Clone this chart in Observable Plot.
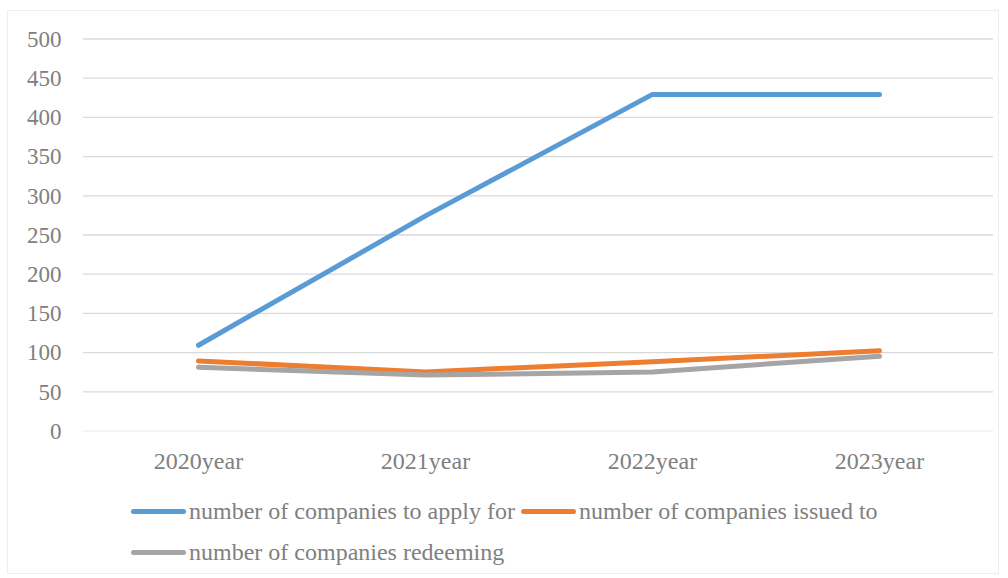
<!DOCTYPE html>
<html>
<head>
<meta charset="utf-8">
<script src="https://cdn.jsdelivr.net/npm/d3@7"></script>
<script src="https://cdn.jsdelivr.net/npm/@observablehq/plot@0.6"></script>
<style>
  html, body { margin: 0; padding: 0; background: #fff; }
  #frame { position: absolute; left: 7px; top: 10px; width: 992px; height: 564px; border: 1px solid #eeeeee; box-sizing: border-box; }
  #chart { position: absolute; left: 0; top: 0; }
  #chart svg text { font-family: "Liberation Serif", Tinos, "DejaVu Serif", serif; }
  .leg { position: absolute; font-family: "Liberation Serif", Tinos, "DejaVu Serif", serif; font-size: 24px; color: #808080; display: flex; align-items: center; white-space: nowrap; }
  .sw { display: inline-block; width: 55px; height: 5px; border-radius: 3px; margin-right: 3px; }
</style>
</head>
<body>
<div id="frame"></div>
<div id="chart"></div>
<div id="legend"></div>
<script>
const years = ["2020year", "2021year", "2022year", "2023year"];
const seriesNames = ["number of companies to apply for", "number of companies issued to", "number of companies redeeming"];
const applyFor = [110, 275, 430, 430];
const issuedTo = [90, 76, 89, 103];
const redeeming = [82, 72, 76, 96];
const yTicks = [0, 50, 100, 150, 200, 250, 300, 350, 400, 450, 500];
const colors = ["#5b9bd5", "#ed7d31", "#a5a5a5"];

const seriesValues = [applyFor, issuedTo, redeeming];
const data = [];
seriesNames.forEach((s, i) => years.forEach((y, j) => data.push({series: s, year: y, value: seriesValues[i][j]})));

const chart = Plot.plot({
  width: 1008,
  height: 480,
  marginLeft: 83,
  marginRight: 15,
  marginTop: 39,
  marginBottom: 49,
  style: {fontFamily: "Liberation Serif, serif", fontSize: "23px", color: "#808080", background: "transparent"},
  x: {type: "point", domain: years, padding: 0.5, label: null},
  y: {domain: [0, 500], label: null},
  color: {domain: seriesNames, range: colors},
  marks: [
    Plot.axisY({ticks: yTicks, tickSize: 0, tickPadding: 22, fill: "#808080", fontSize: 23}),
    Plot.axisX({tickSize: 0, tickPadding: 20, fill: "#808080", fontSize: 24}),
    Plot.lineY(data, {x: "year", y: "value", stroke: "series", strokeWidth: 5, strokeLinecap: "round", strokeLinejoin: "round"})
  ]
});
const svg = d3.select(chart);
const ys = chart.scale("y");
const g = svg.insert("g", ":first-child");
yTicks.forEach(t => {
  g.append("line").attr("x1", 83).attr("x2", 993).attr("y1", ys.apply(t)).attr("y2", ys.apply(t))
    .attr("stroke", t === 0 ? "#f0f0f0" : "#d9d9d9").attr("stroke-width", 1.3);
});
document.getElementById("chart").appendChild(chart);

const legendPos = [[131, 511], [521, 511], [131, 552]];
const legend = document.getElementById("legend");
seriesNames.forEach((s, i) => {
  const d = document.createElement("div");
  d.className = "leg";
  d.style.left = legendPos[i][0] + "px";
  d.style.top = (legendPos[i][1] - 15) + "px";
  d.style.height = "30px";
  d.innerHTML = `<span class="sw" style="background:${colors[i]}"></span><span>${s}</span>`;
  legend.appendChild(d);
});
</script>
</body>
</html>
